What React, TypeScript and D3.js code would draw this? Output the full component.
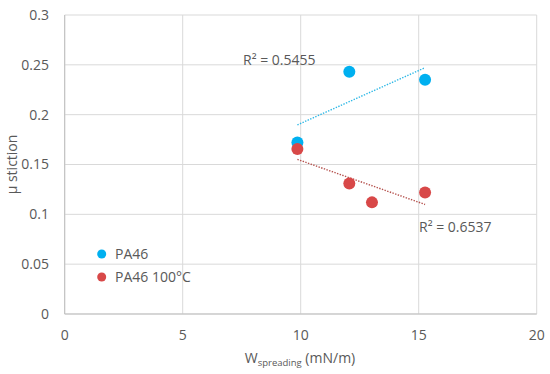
import React, { useRef, useEffect } from 'react';
import * as d3 from 'd3';

// PA46 (room temperature)
const pa46X = [9.86, 12.06, 15.27];
const pa46Y = [0.172, 0.243, 0.235];
// PA46 at 100°C
const pa46hotX = [9.86, 12.06, 13.02, 15.27];
const pa46hotY = [0.1655, 0.131, 0.112, 0.122];

const xTicks = [0, 5, 10, 15, 20];
const yTicks = [0, 0.05, 0.1, 0.15, 0.2, 0.25, 0.3];
const seriesNames = ['PA46', 'PA46 100°C'];
const r2Labels = ['R² = 0.5455', 'R² = 0.6537'];

const BLUE = '#00B0F0';
const RED = '#D84848';
const BLUE_TREND = '#2EB8E6';
const RED_TREND = '#B5524E';

const fit = (xs: number[], ys: number[]) => {
  const mx = d3.mean(xs) as number;
  const my = d3.mean(ys) as number;
  let sxy = 0;
  let sxx = 0;
  xs.forEach((x, i) => {
    sxy += (x - mx) * (ys[i] - my);
    sxx += (x - mx) * (x - mx);
  });
  const slope = sxy / sxx;
  return (x: number) => my + slope * (x - mx);
};

const App = () => {
  const svgRef = useRef<SVGSVGElement>(null);

  useEffect(() => {
    const svg = d3.select(svgRef.current);
    svg.selectAll('*').remove();

    const width = 550;
    const height = 374;
    const font = '"Open Sans", sans-serif';
    const textColor = '#595959';

    const x = d3.scaleLinear().domain([0, 20]).range([64.7, 536.7]);
    const y = d3.scaleLinear().domain([0, 0.3]).range([314, 15]);

    svg.attr('width', width).attr('height', height);
    svg.append('rect').attr('width', width).attr('height', height).attr('fill', '#fff');

    // grid
    const grid = svg.append('g');
    grid.selectAll('.hg')
      .data(yTicks)
      .enter().append('line')
      .attr('x1', x(0)).attr('x2', x(20))
      .attr('y1', d => y(d)).attr('y2', d => y(d))
      .attr('stroke', '#D9D9D9').attr('stroke-width', 1);
    grid.selectAll('.vg')
      .data(xTicks)
      .enter().append('line')
      .attr('x1', d => x(d)).attr('x2', d => x(d))
      .attr('y1', y(0)).attr('y2', y(0.3))
      .attr('stroke', '#D9D9D9').attr('stroke-width', 1);
    // axis lines
    svg.append('line')
      .attr('x1', x(0)).attr('x2', x(20)).attr('y1', y(0)).attr('y2', y(0))
      .attr('stroke', '#BFBFBF');
    svg.append('line')
      .attr('x1', x(0)).attr('x2', x(0)).attr('y1', y(0)).attr('y2', y(0.3))
      .attr('stroke', '#BFBFBF');

    // tick labels
    svg.selectAll('.yt')
      .data(yTicks)
      .enter().append('text')
      .attr('x', 49).attr('y', d => y(d))
      .attr('dy', '0.35em')
      .attr('text-anchor', 'end')
      .attr('font-family', font).attr('font-size', 14).attr('fill', textColor)
      .text(d => String(d));
    svg.selectAll('.xt')
      .data(xTicks)
      .enter().append('text')
      .attr('x', d => x(d)).attr('y', 335)
      .attr('dy', '0.35em')
      .attr('text-anchor', 'middle')
      .attr('font-family', font).attr('font-size', 14).attr('fill', textColor)
      .text(d => String(d));

    // axis titles
    const xt = svg.append('text')
      .attr('x', 300).attr('y', 363)
      .attr('text-anchor', 'middle')
      .attr('font-family', font).attr('font-size', 14).attr('fill', textColor);
    xt.append('tspan').text('W');
    xt.append('tspan').attr('font-size', 9.5).attr('dy', 3).text('spreading');
    xt.append('tspan').attr('dy', -3).text(' (mN/m)');

    svg.append('text')
      .attr('transform', `translate(17,${y(0.15)}) rotate(-90)`)
      .attr('text-anchor', 'middle')
      .attr('font-family', font).attr('font-size', 14).attr('fill', textColor)
      .text('μ stiction');

    // trendlines
    const series = [
      { xs: pa46X, ys: pa46Y, color: BLUE, trend: BLUE_TREND },
      { xs: pa46hotX, ys: pa46hotY, color: RED, trend: RED_TREND },
    ];
    series.forEach(s => {
      const f = fit(s.xs, s.ys);
      const x0 = d3.min(s.xs) as number;
      const x1 = d3.max(s.xs) as number;
      svg.append('line')
        .attr('x1', x(x0)).attr('y1', y(f(x0)))
        .attr('x2', x(x1)).attr('y2', y(f(x1)))
        .attr('stroke', s.trend).attr('stroke-width', 1.4)
        .attr('stroke-dasharray', '1.4 1.4');
    });

    // points
    series.forEach(s => {
      svg.append('g').selectAll('circle')
        .data(s.xs)
        .enter().append('circle')
        .attr('cx', d => x(d))
        .attr('cy', (d, i) => y(s.ys[i]))
        .attr('r', 6)
        .attr('fill', s.color);
    });

    // R² labels
    svg.append('text')
      .attr('x', 243).attr('y', 65)
      .attr('font-family', font).attr('font-size', 14).attr('fill', textColor)
      .text(r2Labels[0]);
    svg.append('text')
      .attr('x', 419).attr('y', 232)
      .attr('font-family', font).attr('font-size', 14).attr('fill', textColor)
      .text(r2Labels[1]);

    // legend
    const legend = svg.append('g');
    seriesNames.forEach((name, i) => {
      const cy = 254 + i * 23;
      legend.append('circle')
        .attr('cx', 101.7).attr('cy', cy).attr('r', 4.5)
        .attr('fill', i === 0 ? BLUE : RED);
      legend.append('text')
        .attr('x', 115).attr('y', cy)
        .attr('dy', '0.35em')
        .attr('font-family', font).attr('font-size', 14).attr('fill', textColor)
        .text(name);
    });
  }, []);

  return (
    <div style={{ position: 'absolute', left: 0, top: 0, width: '550px', height: '374px' }}>
      <svg ref={svgRef}></svg>
    </div>
  );
};

export default App;
